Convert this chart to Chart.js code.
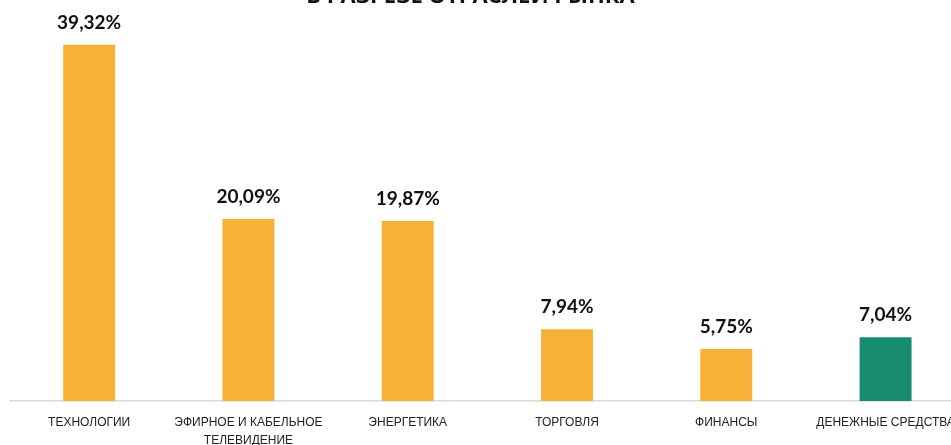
<!DOCTYPE html>
<html><head><meta charset="utf-8">
<script src="https://cdn.jsdelivr.net/npm/chart.js@4"></script>
<style>
html,body{margin:0;padding:0;background:#fff;overflow:hidden;width:951px;height:445px;}
#wrap{position:absolute;left:-20px;top:-20px;width:988px;height:482px;}
</style></head>
<body><div id="wrap"><canvas id="c"></canvas></div>
<script>
const titleText = "В РАЗРЕЗЕ ОТРАСЛЕЙ РЫНКА";
const categories = ["ТЕХНОЛОГИИ", ["ЭФИРНОЕ И КАБЕЛЬНОЕ", "ТЕЛЕВИДЕНИЕ"], "ЭНЕРГЕТИКА", "ТОРГОВЛЯ", "ФИНАНСЫ", "ДЕНЕЖНЫЕ СРЕДСТВА"];
const shares = [39.32, 20.09, 19.87, 7.94, 5.75, 7.04];
const barColors = ["#F6B137", "#F6B137", "#F6B137", "#F6B137", "#F6B137", "#168B6F"];

const valueLabels = {
  id: 'valueLabels',
  afterDatasetsDraw(chart) {
    const ctx = chart.ctx;
    const meta = chart.getDatasetMeta(0);
    ctx.save();
    ctx.font = "bold 19px Lato, 'Open Sans', sans-serif";
    ctx.fillStyle = "#111";
    ctx.textAlign = "center";
    ctx.textBaseline = "alphabetic";
    meta.data.forEach((bar, i) => {
      const txt = shares[i].toFixed(2).replace('.', ',') + '%';
      ctx.fillText(txt, bar.x, bar.y - 16);
    });
    ctx.restore();
  }
};

const chartTitle = {
  id: 'chartTitle',
  afterDraw(chart) {
    const ctx = chart.ctx;
    ctx.save();
    ctx.font = "bold 22px 'Open Sans', sans-serif";
    ctx.fillStyle = "#111";
    ctx.textAlign = "center";
    ctx.textBaseline = "middle";
    ctx.fillText(titleText, 490.5, 17.2);
    ctx.restore();
  }
};

new Chart(document.getElementById('c'), {
  type: 'bar',
  data: {
    labels: categories,
    datasets: [{ data: shares, backgroundColor: barColors, borderWidth: 0,
      categoryPercentage: 1, barPercentage: 0.326 }]
  },
  options: {
    responsive: true, maintainAspectRatio: false, animation: false,
    layout: { padding: { left: 29.5, right: 2, top: 40.4, bottom: 0 } },
    plugins: {
      legend: { display: false },
      tooltip: { enabled: false },
      title: { display: false }
    },
    scales: {
      x: {
        grid: { display: false, drawTicks: false },
        border: { display: true, color: '#D9D9D9', width: 1.5 },
        ticks: { color: '#222', padding: 13, maxRotation: 0, autoSkip: false,
          font: { family: "'Liberation Sans Narrow', 'Arial Narrow', sans-serif", size: 12, lineHeight: 1.45 } }
      },
      y: { display: false, min: 0, max: 42 }
    }
  },
  plugins: [valueLabels, chartTitle]
});
</script>
</body></html>
